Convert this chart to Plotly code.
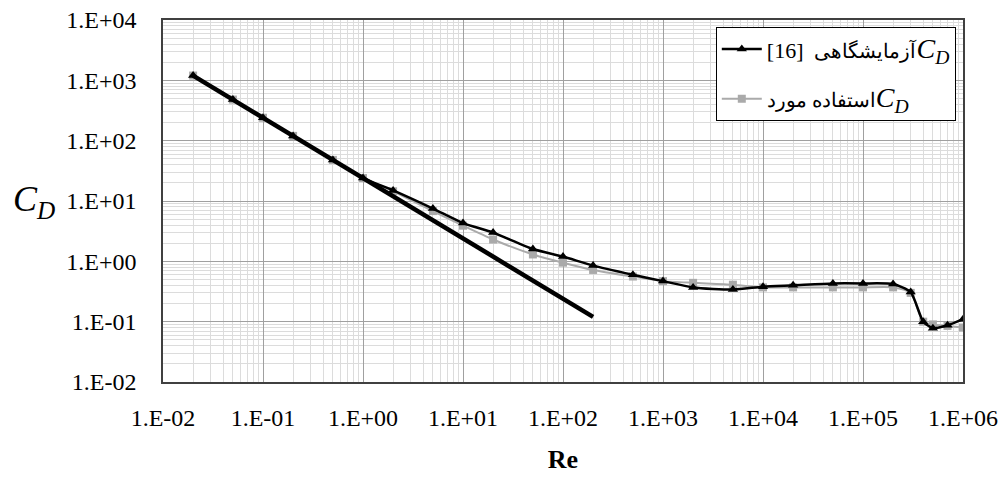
import plotly.graph_objects as go

# ---- data ----
re_exp = [0.02, 0.05, 0.1, 0.2, 0.5, 1, 2, 5, 10, 20, 50, 100, 200, 500, 1000, 2000, 5000,
          1e4, 2e4, 5e4, 1e5, 2e5, 3e5, 4e5, 5e5, 7e5, 1e6]
cd_exp = [1200, 480, 240, 120, 48, 24, 15, 7.5, 4.3, 3.0, 1.6, 1.2, 0.85, 0.6, 0.47, 0.37, 0.34,
          0.38, 0.40, 0.43, 0.43, 0.42, 0.31, 0.10, 0.078, 0.087, 0.11]

re_used = [0.02, 0.05, 0.1, 0.2, 0.5, 1, 2, 5, 10, 20, 50, 100, 200, 500, 1000, 2000, 5000,
           1e4, 2e4, 5e4, 1e5, 2e5, 3e5, 4e5, 5e5, 7e5, 1e6]
cd_used = [1200, 480, 240, 120, 48, 24, 14.5, 6.8, 3.9, 2.3, 1.3, 0.95, 0.72, 0.56, 0.47, 0.44, 0.41,
           0.37, 0.37, 0.37, 0.37, 0.37, 0.30, 0.10, 0.09, 0.085, 0.08]

re_stokes = [0.02, 200]
cd_stokes = [1200, 0.12]

x_tickvals = [1e-2, 1e-1, 1e0, 1e1, 1e2, 1e3, 1e4, 1e5, 1e6]
x_ticktext = ["1.E-02", "1.E-01", "1.E+00", "1.E+01", "1.E+02", "1.E+03", "1.E+04", "1.E+05", "1.E+06"]
y_tickvals = [1e-2, 1e-1, 1e0, 1e1, 1e2, 1e3, 1e4]
y_ticktext = ["1.E-02", "1.E-01", "1.E+00", "1.E+01", "1.E+02", "1.E+03", "1.E+04"]

CD = '<span style="font-size:28px"><i>C</i><sub><i>D</i></sub></span>'
name_exp = '[16]  <span style="font-size:20px">آزمایشگاهی</span>' + CD
name_used = '<span style="font-size:20px">استفاده مورد</span>' + CD

SERIF = "Liberation Serif"

fig = go.Figure()
fig.add_trace(go.Scatter(
    x=re_used, y=cd_used, name=name_used, mode="lines+markers",
    legendgroup="used", legendrank=2,
    line=dict(color="#aaaaaa", width=2, shape="spline", smoothing=0.6),
    marker=dict(symbol="square", size=8, color="#aaaaaa"),
))
fig.add_trace(go.Scatter(
    x=re_exp, y=cd_exp, name=name_exp, mode="lines+markers",
    legendgroup="exp", legendrank=1,
    line=dict(color="#000000", width=2.5, shape="spline", smoothing=0.6),
    marker=dict(symbol="triangle-up", size=9, color="#000000"),
))
fig.add_trace(go.Scatter(
    x=re_stokes, y=cd_stokes, mode="lines", showlegend=False,
    line=dict(color="#000000", width=4.5),
))

fig.update_layout(
    width=1004, height=479,
    margin=dict(l=163, r=41, t=20, b=97),
    paper_bgcolor="white", plot_bgcolor="white",
    font=dict(family=SERIF, color="#000000"),
    showlegend=True,
    legend=dict(
        x=0.691, y=0.98, xanchor="left", yanchor="top",
        bgcolor="white", bordercolor="#000000", borderwidth=1,
        font=dict(family=SERIF, size=22, color="#000000"),
        itemwidth=40, traceorder="grouped", tracegroupgap=18,
    ),
)

fig.update_xaxes(
    type="log", range=[-2, 6], automargin=False,
    tickvals=x_tickvals, ticktext=x_ticktext,
    tickfont=dict(family=SERIF, size=24),
    ticks="", ticklabelstandoff=13,
    showgrid=True, gridcolor="#a0a0a0", gridwidth=1,
    minor=dict(showgrid=True, gridcolor="#dcdcdc", gridwidth=1, dtick="D1", ticks=""),
    showline=True, linecolor="#404040", linewidth=1.5, mirror=True,
    zeroline=False,
    title=dict(text="<b>Re</b>", font=dict(family=SERIF, size=26), standoff=20),
)
fig.update_yaxes(
    type="log", range=[-2, 4], automargin=False,
    tickvals=y_tickvals, ticktext=y_ticktext,
    tickfont=dict(family=SERIF, size=24),
    ticks="", ticklabelstandoff=20,
    showgrid=True, gridcolor="#a0a0a0", gridwidth=1,
    minor=dict(showgrid=True, gridcolor="#dcdcdc", gridwidth=1, dtick="D1", ticks=""),
    showline=True, linecolor="#404040", linewidth=1.5, mirror=True,
    zeroline=False,
)

fig.add_annotation(
    text="<i>C</i><sub><i>D</i></sub>", xref="paper", yref="paper",
    x=-0.19, y=0.5, xanchor="left", yanchor="middle", showarrow=False,
    font=dict(family=SERIF, size=36, color="#000000"),
)

fig.write_html("out.html", config={"displayModeBar": False},
               post_script="document.body.style.margin='0';")
